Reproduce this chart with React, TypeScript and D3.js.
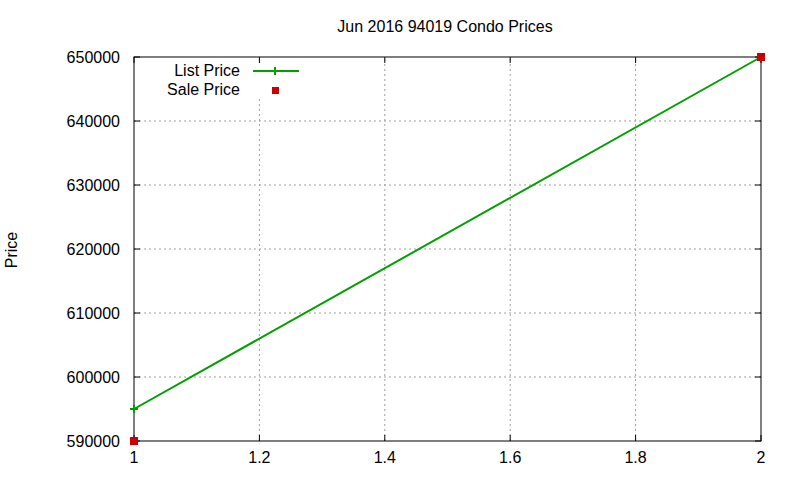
import React from "react";
import * as d3 from "d3";

const xValues = [1, 2];
const listPrices = [595000, 650000];
const salePrices = [590000, 650000];
const xTicks = [1, 1.2, 1.4, 1.6, 1.8, 2];
const yTicks = [590000, 600000, 610000, 620000, 630000, 640000, 650000];

const W = 800, H = 480;
const L = 134, R = 761, T = 57, B = 441;
const font = "'Liberation Sans', Arial, sans-serif";
const fs = 16;

export default function App() {
  const x = d3.scaleLinear().domain([1, 2]).range([L, R]);
  const y = d3.scaleLinear().domain([590000, 650000]).range([B, T]);
  const line = d3.line<number>().x((_, i) => x(xValues[i])).y((d) => y(d));
  const tl = 6;
  return (
    <svg width={W} height={H} style={{ position: "absolute", left: 0, top: 0, background: "#fff" }}>
      <rect width={W} height={H} fill="#fff" />
      <text x={445} y={32} textAnchor="middle" fontFamily={font} fontSize={fs}>Jun 2016 94019 Condo Prices</text>
      <text transform={`translate(17,250) rotate(-90)`} textAnchor="middle" fontFamily={font} fontSize={fs}>Price</text>
      {/* grid */}
      {xTicks.slice(1, -1).map((t) => (
        <line key={"gx" + t} x1={x(t)} x2={x(t)} y1={B} y2={T} stroke="#a0a0a0" strokeDasharray="2,3" strokeWidth={1} />
      ))}
      {yTicks.slice(1, -1).map((t) => (
        <line key={"gy" + t} x1={L} x2={R} y1={y(t)} y2={y(t)} stroke="#a0a0a0" strokeDasharray="2,3" strokeWidth={1} />
      ))}
      {/* legend background */}
      <rect x={150} y={T + 1} width={155} height={41} fill="#fff" />
      {/* ticks */}
      {xTicks.map((t) => (
        <g key={"tx" + t}>
          <line x1={x(t)} x2={x(t)} y1={B} y2={B - tl} stroke="#000" />
          <line x1={x(t)} x2={x(t)} y1={T} y2={T + tl} stroke="#000" />
          <text x={x(t)} y={B + 22} textAnchor="middle" fontFamily={font} fontSize={fs}>{d3.format("")(t)}</text>
        </g>
      ))}
      {yTicks.map((t) => (
        <g key={"ty" + t}>
          <line x1={L} x2={L + tl} y1={y(t)} y2={y(t)} stroke="#000" />
          <line x1={R} x2={R - tl} y1={y(t)} y2={y(t)} stroke="#000" />
          <text x={L - 14} y={y(t) + 6} textAnchor="end" fontFamily={font} fontSize={fs}>{t}</text>
        </g>
      ))}
      <rect x={L} y={T} width={R - L} height={B - T} fill="none" stroke="#000" strokeWidth={1} />
      {/* list price line */}
      <path d={line(listPrices) || ""} fill="none" stroke="#00a000" strokeWidth={2} />
      {listPrices.map((v, i) => (
        <g key={"lp" + i} stroke="#00a000" strokeWidth={2}>
          <line x1={x(xValues[i]) - 4} x2={x(xValues[i]) + 4} y1={y(v)} y2={y(v)} />
          <line x1={x(xValues[i])} x2={x(xValues[i])} y1={y(v) - 4} y2={y(v) + 4} />
        </g>
      ))}
      {salePrices.map((v, i) => (
        <rect key={"sp" + i} x={x(xValues[i]) - 4} y={y(v) - 4} width={8} height={8} fill="#cc0000" />
      ))}
      {/* legend */}
      <text x={240} y={76} textAnchor="end" fontFamily={font} fontSize={fs}>List Price</text>
      <line x1={253} x2={299} y1={71} y2={71} stroke="#00a000" strokeWidth={2} />
      <line x1={275} x2={275} y1={67} y2={75} stroke="#00a000" strokeWidth={2} />
      <text x={240} y={95} textAnchor="end" fontFamily={font} fontSize={fs}>Sale Price</text>
      <rect x={272} y={87} width={7} height={7} fill="#cc0000" />
    </svg>
  );
}
